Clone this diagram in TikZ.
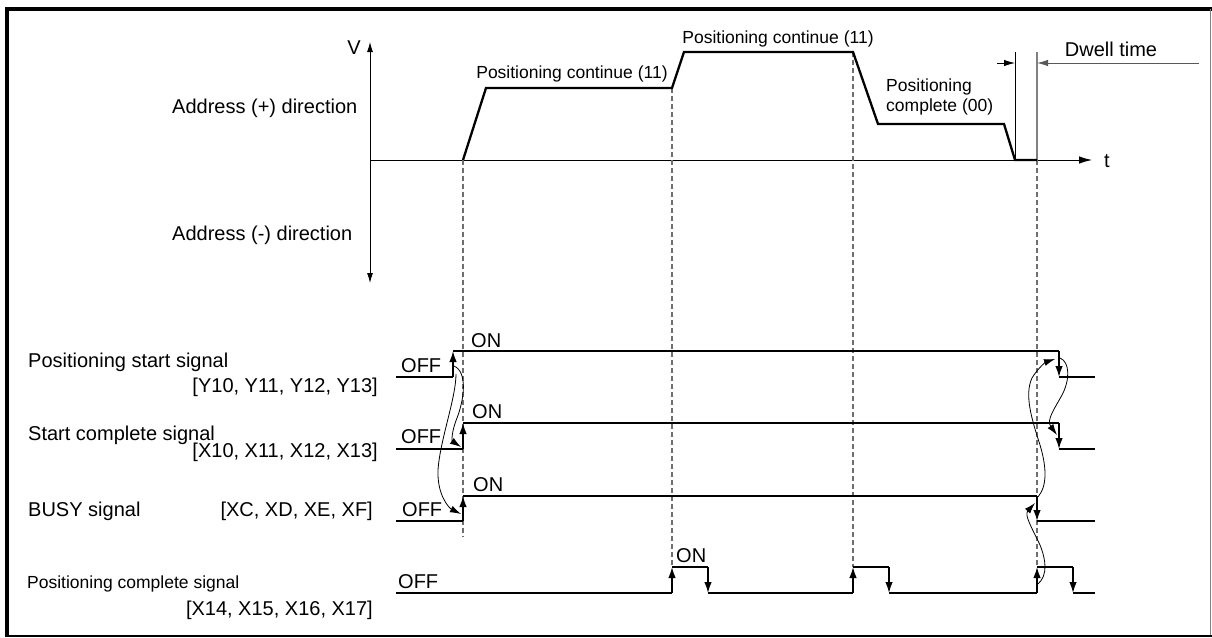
\documentclass[tikz,border=0pt]{standalone}
\usepackage{fontspec}
\setmainfont{Liberation Sans}
\usetikzlibrary{arrows.meta}
\definecolor{dashgray}{RGB}{110,110,110}
\begin{document}
\begin{tikzpicture}[x=1pt,y=-1pt,
  txt/.style={font=\fontsize{20}{24}\selectfont, inner sep=0pt},
  stxt/.style={font=\fontsize{17.5}{21}\selectfont, inner sep=0pt},
  sig/.style={line width=1.5pt},
  prof/.style={line width=2.3pt, line join=miter},
  axis/.style={line width=0.9pt},
  edgearr/.style={sig, -{Latex[length=11pt,width=7.5pt]}},
  cause/.style={line width=0.8pt, -{Latex[length=11pt,width=7pt]}},
  guide/.style={dashgray, line width=1.2pt, dash pattern=on 5pt off 3pt},
  dwellarr/.style={line width=0.9pt, -{Latex[length=11pt,width=6.5pt]}}]
\useasboundingbox (0,0) rectangle (1212,637);
% frame
\draw[line width=4pt, line join=miter] (7,637) -- (7,9) -- (1212,9);
\draw[gray, line width=1.5pt] (1210.5,9) -- (1210.5,637);
\draw[line width=2pt] (7,636) -- (1212,636);
% axes
\draw[axis, {Latex[length=10pt,width=6pt]}-{Latex[length=10pt,width=6pt]}] (370,283) -- (370,42);
\draw[axis, -{Latex[length=13pt,width=7.5pt]}] (370,160) -- (1092,160);
\node[txt, anchor=base] (V) at (354,54) {V};
\node[txt, anchor=base] (t) at (1107,167) {t};
\node[txt, anchor=base west] (addp) at (172,113) {Address (+) direction};
\node[txt, anchor=base west] (addm) at (172,240) {Address (-) direction};
% guide lines
\draw[guide] (463,160) -- (463,537);
\draw[guide] (672,88) -- (672,567);
\draw[guide] (853,52) -- (853,567);
\draw[guide] (1037,160) -- (1037,567);
% dwell time
\draw[line width=0.9pt] (1015,52) -- (1015,160);
\draw[gray, line width=1.2pt] (1037,52) -- (1037,160);
\coordinate (dwl) at (997,63);
\coordinate (dwr) at (1199,63);
\coordinate (dwa) at (1015,63);
\coordinate (dwb) at (1037,63);
\draw[dwellarr] (dwl) -- (dwa);
\draw[dwellarr, gray!70!black] (dwr) -- (dwb);
\node[txt, anchor=base] (dwell) at (1111,56) {Dwell time};
% velocity profile
\draw[prof] (463,160) -- (486,88) -- (672,88) -- (684,52) -- (853,52) -- (878,124) -- (1004,124) -- (1015,160) -- (1037,160);
\node[stxt, anchor=base] (pc1) at (572,78) {Positioning continue (11)};
\node[stxt, anchor=base] (pc2) at (778,43) {Positioning continue (11)};
\node[stxt, anchor=base west] (pcomp1) at (886,91) {Positioning};
\node[stxt, anchor=base west] (pcomp2) at (886,111) {complete (00)};
% signal labels
\node[txt, anchor=base west] (l1) at (28,367) {Positioning start signal};
\node[txt, anchor=base east] (l1b) at (378,392) {[Y10, Y11, Y12, Y13]};
\node[txt, anchor=base west] (l2) at (28,440) {Start complete signal};
\node[txt, anchor=base east] (l2b) at (378,457) {[X10, X11, X12, X13]};
\node[txt, anchor=base west] (l3) at (28,516) {BUSY signal};
\node[txt, anchor=base east] (l3b) at (373,516) {[XC, XD, XE, XF]};
\node[stxt, anchor=base west] (l4) at (27,588) {Positioning complete signal};
\node[txt, anchor=base east] (l4b) at (373,615) {[X14, X15, X16, X17]};
% ON / OFF
\node[txt, anchor=base west] (off1) at (401,372) {OFF};
\node[txt, anchor=base west] (on1) at (471,347) {ON};
\node[txt, anchor=base west] (off2) at (401,443) {OFF};
\node[txt, anchor=base west] (on2) at (472,418) {ON};
\node[txt, anchor=base west] (off3) at (402,516) {OFF};
\node[txt, anchor=base west] (on3) at (473,491) {ON};
\node[txt, anchor=base west] (off4) at (398,588) {OFF};
\node[txt, anchor=base west] (on4) at (676,562) {ON};
% positioning start signal
\draw[sig] (396,377) -- (453,377);
\draw[edgearr] (453,377) -- (453,351);
\draw[sig] (453,351) -- (1059,351);
\draw[edgearr] (1059,351) -- (1059,377);
\draw[sig] (1059,377) -- (1095,377);
% start complete signal
\draw[sig] (396,449) -- (463,449);
\draw[edgearr] (463,449) -- (463,423);
\draw[sig] (463,423) -- (1059,423);
\draw[edgearr] (1059,423) -- (1059,449);
\draw[sig] (1059,449) -- (1095,449);
% BUSY signal
\draw[sig] (396,521) -- (463,521);
\draw[edgearr] (463,521) -- (463,496);
\draw[sig] (463,496) -- (1037,496);
\draw[edgearr] (1037,496) -- (1037,521);
\draw[sig] (1037,521) -- (1095,521);
% positioning complete signal
\draw[sig] (396,593) -- (672,593);
\draw[edgearr] (672,593) -- (672,567);
\draw[sig] (672,567) -- (708,567);
\draw[edgearr] (708,567) -- (708,593);
\draw[sig] (708,593) -- (853,593);
\draw[edgearr] (853,593) -- (853,567);
\draw[sig] (853,567) -- (889,567);
\draw[edgearr] (889,567) -- (889,593);
\draw[sig] (889,593) -- (1037,593);
\draw[edgearr] (1037,593) -- (1037,567);
\draw[sig] (1037,567) -- (1073,567);
\draw[edgearr] (1073,567) -- (1073,593);
\draw[sig] (1073,593) -- (1095,593);
% cause arrows
\coordinate (c1s) at (454,366);
\coordinate (c1e) at (461,447);
\coordinate (c2s) at (456,374);
\coordinate (c2e) at (461,514);
\coordinate (cAs) at (1038,584);
\coordinate (cAe) at (1035,503);
\coordinate (cBs) at (1038,497);
\coordinate (cBe) at (1055,359);
\coordinate (cCs) at (1060,358);
\coordinate (cCe) at (1057,435);
\draw[cause] (c1s) .. controls (468,372) and (464,400) .. (457,418) .. controls (451,433) and (452,441) .. (c1e);
\draw[cause] (c2s) .. controls (456,398) and (440,440) .. (438,470) .. controls (437,495) and (449,508) .. (c2e);
\draw[cause] (cAs) .. controls (1048,575) and (1046,560) .. (1040,545) .. controls (1032,528) and (1024,515) .. (cAe);
\draw[cause] (cBs) .. controls (1048,485) and (1046,465) .. (1040,445) .. controls (1032,420) and (1024,395) .. (1032,378) .. controls (1038,368) and (1046,362) .. (cBe);
\draw[cause] (cCs) .. controls (1070,362) and (1070,380) .. (1062,395) .. controls (1055,408) and (1046,420) .. (cCe);
\end{tikzpicture}
\end{document}
